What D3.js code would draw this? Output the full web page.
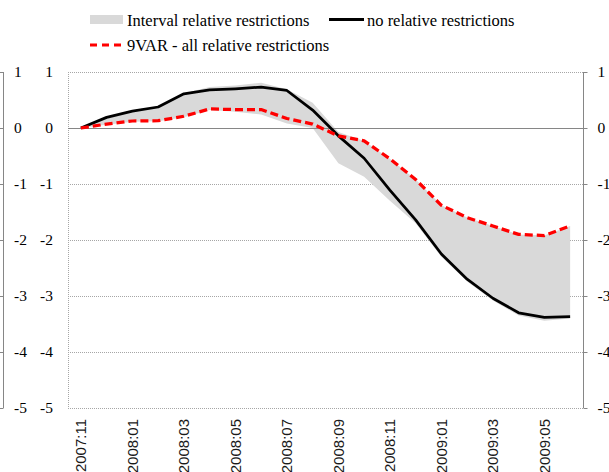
<!DOCTYPE html>
<html>
<head>
<meta charset="utf-8">
<script src="https://cdn.jsdelivr.net/npm/d3@7"></script>
<style>
  html, body { margin: 0; padding: 0; background: #fff; }
  svg { display: block; }
</style>
</head>
<body>
<script>
// Monthly periods on the horizontal axis
const months = ["2007:11","2007:12","2008:01","2008:02","2008:03","2008:04","2008:05","2008:06",
                "2008:07","2008:08","2008:09","2008:10","2008:11","2008:12","2009:01","2009:02",
                "2009:03","2009:04","2009:05","2009:06"];
// Labelled periods (every second month)
const tickMonths = ["2007:11","2008:01","2008:03","2008:05","2008:07","2008:09","2008:11","2009:01","2009:03","2009:05"];
const yTicks = [1, 0, -1, -2, -3, -4, -5];

// no relative restrictions
const noRelative = [0, 0.19, 0.30, 0.375, 0.61, 0.68, 0.70, 0.73, 0.67, 0.32,
                    -0.14, -0.54, -1.11, -1.64, -2.25, -2.70, -3.04, -3.30, -3.38, -3.37];
// 9VAR - all relative restrictions
const allRelative = [0, 0.07, 0.125, 0.13, 0.21, 0.34, 0.33, 0.33, 0.17, 0.07,
                     -0.14, -0.23, -0.55, -0.92, -1.38, -1.60, -1.75, -1.90, -1.92, -1.75];
// Interval relative restrictions (upper and lower bounds)
const intervalHigh = [0, 0.20, 0.31, 0.38, 0.62, 0.73, 0.76, 0.81, 0.69, 0.45,
                      -0.07, -0.23, -0.55, -0.92, -1.38, -1.60, -1.75, -1.90, -1.92, -1.75];
const intervalLow = [0, 0.06, 0.11, 0.12, 0.19, 0.32, 0.29, 0.24, 0.08, 0.0,
                     -0.63, -0.87, -1.30, -1.70, -2.30, -2.74, -3.08, -3.35, -3.44, -3.40];

const W = 609, H = 472;
const plot = { left: 68, right: 583, top: 72, bottom: 408 };

const svg = d3.select("body").append("svg").attr("width", W).attr("height", H);

const x = d3.scalePoint().domain(months).range([plot.left, plot.right]).padding(0.5);
const y = d3.scaleLinear().domain([-5, 1]).range([plot.bottom, plot.top]);

const serif = "'Liberation Serif', 'Times New Roman', serif";
const sans = "'Liberation Sans', Arial, sans-serif";

// Horizontal gridlines (dotted), zero line solid
const grid = svg.append("g");
grid.selectAll("line.g").data(yTicks.filter(v => v !== 0)).join("line")
  .attr("x1", plot.left).attr("x2", plot.right)
  .attr("y1", d => y(d) + 0.5).attr("y2", d => y(d) + 0.5)
  .attr("stroke", "#a6a6a6").attr("stroke-width", 1).attr("stroke-dasharray", "1,1");
// Left boundary of the plot area (dotted)
grid.append("line")
  .attr("x1", plot.left + 0.5).attr("x2", plot.left + 0.5)
  .attr("y1", plot.top).attr("y2", plot.bottom)
  .attr("stroke", "#a6a6a6").attr("stroke-dasharray", "1,1");

// Interval band
const area = d3.area()
  .x((d, i) => x(months[i]))
  .y0((d, i) => y(intervalLow[i]))
  .y1(d => y(d));
svg.append("path").datum(intervalHigh)
  .attr("d", area).attr("fill", "#d9d9d9");

// Zero line
svg.append("line")
  .attr("x1", plot.left).attr("x2", plot.right)
  .attr("y1", y(0) + 0.5).attr("y2", y(0) + 0.5)
  .attr("stroke", "#868686").attr("stroke-width", 1);

// Series lines
const line = d3.line().x((d, i) => x(months[i])).y(d => y(d));
svg.append("path").datum(noRelative)
  .attr("d", line).attr("fill", "none")
  .attr("stroke", "#000").attr("stroke-width", 2.75).attr("stroke-linejoin", "round");
svg.append("path").datum(allRelative)
  .attr("d", line).attr("fill", "none")
  .attr("stroke", "#ff0000").attr("stroke-width", 3.25)
  .attr("stroke-dasharray", "8,4").attr("stroke-linejoin", "round");

// Inner left axis labels
svg.append("g").selectAll("text").data(yTicks).join("text")
  .attr("x", 53).attr("y", d => y(d)).attr("dy", "0.35em")
  .attr("text-anchor", "end")
  .attr("font-family", serif).attr("font-size", 15.5).attr("fill", "#000")
  .text(d => d);

// Right axis
const rightAxis = svg.append("g").attr("transform", `translate(${plot.right + 0.5},0)`)
  .call(d3.axisRight(y).tickValues(yTicks).tickSize(4).tickPadding(10).tickFormat(d3.format("d")));
rightAxis.select(".domain").attr("stroke", "#868686").attr("d", `M0,${plot.top}V${plot.bottom}`);
rightAxis.selectAll(".tick line").attr("stroke", "#868686");
rightAxis.selectAll(".tick text")
  .attr("font-family", serif).attr("font-size", 15.5).attr("fill", "#000")
  .text(d => d);

// Outer left axis (edge of the neighbouring panel)
const outerAxis = svg.append("g").attr("transform", "translate(3.5,0)");
outerAxis.append("line").attr("x1", 0).attr("x2", 0)
  .attr("y1", plot.top).attr("y2", plot.bottom).attr("stroke", "#868686");
outerAxis.selectAll("line.t").data(yTicks).join("line")
  .attr("x1", -4).attr("x2", 0)
  .attr("y1", d => y(d) + 0.5).attr("y2", d => y(d) + 0.5)
  .attr("stroke", "#868686");
svg.append("g").selectAll("text").data(yTicks).join("text")
  .attr("x", 14).attr("y", d => y(d)).attr("dy", "0.35em")
  .attr("text-anchor", "start")
  .attr("font-family", serif).attr("font-size", 15.5).attr("fill", "#000")
  .text(d => d);

// Month labels, rotated
svg.append("g").selectAll("text").data(tickMonths).join("text")
  .attr("transform", d => `translate(${x(d)},${plot.bottom + 11}) rotate(-90)`)
  .attr("dy", "0.36em")
  .attr("text-anchor", "end")
  .attr("font-family", sans).attr("font-size", 15).attr("fill", "#1a1a1a")
  .text(d => d);

// Legend
const legend = svg.append("g");
legend.append("rect").attr("x", 90).attr("y", 15).attr("width", 33).attr("height", 9).attr("fill", "#d9d9d9");
legend.append("text").attr("x", 127).attr("y", 25.5)
  .attr("font-family", serif).attr("font-size", 16.5).attr("fill", "#000")
  .text("Interval relative restrictions");
legend.append("line").attr("x1", 329).attr("x2", 364).attr("y1", 19.5).attr("y2", 19.5)
  .attr("stroke", "#000").attr("stroke-width", 3);
legend.append("text").attr("x", 367).attr("y", 25.5)
  .attr("font-family", serif).attr("font-size", 16.5).attr("fill", "#000")
  .text("no relative restrictions");
legend.append("line").attr("x1", 90).attr("x2", 122).attr("y1", 45).attr("y2", 45)
  .attr("stroke", "#ff0000").attr("stroke-width", 3).attr("stroke-dasharray", "7,5");
legend.append("text").attr("x", 127).attr("y", 50.5)
  .attr("font-family", serif).attr("font-size", 16.5).attr("fill", "#000")
  .text("9VAR - all relative restrictions");
</script>
</body>
</html>
